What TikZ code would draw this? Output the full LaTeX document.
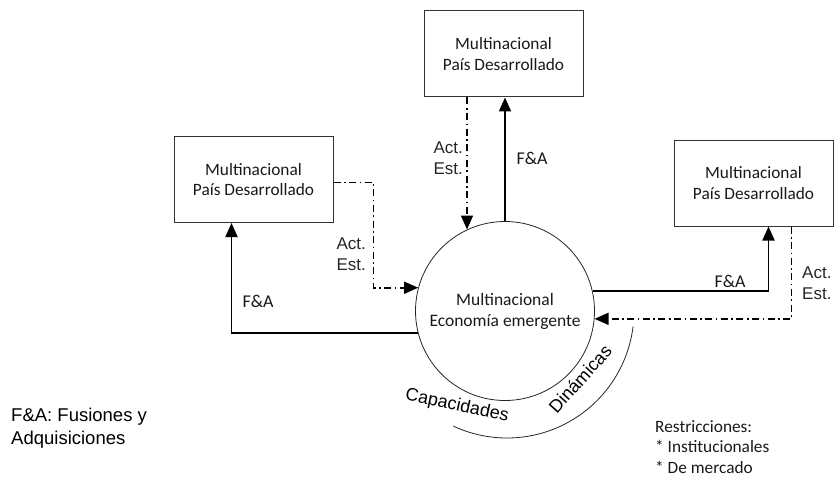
\documentclass[tikz,border=0pt]{standalone}
\usepackage{fontspec}
\usetikzlibrary{arrows.meta}
\newfontfamily\calfont{Carlito}
\newfontfamily\arifont{Liberation Sans}
\begin{document}
\begin{tikzpicture}[x=1pt,y=-1pt,
  firm/.style={draw=black!80, line width=1pt, minimum width=159pt, minimum height=86pt,
    inner sep=0pt, align=center, text=black!90, font=\calfont\fontsize{17.3}{20.5}\selectfont},
  core/.style={draw=black!85, line width=0.8pt, circle, minimum size=179pt, inner sep=0pt,
    align=center, text=black!90, font=\calfont\fontsize{17.5}{21}\selectfont},
  tip/.style={-{Triangle[length=14pt,width=12pt]}},
  fa/.style={tip, line width=1.8pt},
  act/.style={tip, line width=1.6pt, dash pattern=on 7pt off 3.5pt on 1.6pt off 3.5pt},
  falbl/.style={inner sep=0pt, text=black!90, font=\calfont\fontsize{18}{20}\selectfont},
  actlbl/.style={inner sep=0pt, text=black!85, font=\arifont\fontsize{17}{21.5}\selectfont},
  arclbl/.style={inner sep=0pt, font=\arifont\fontsize{18}{20}\selectfont},
]
\useasboundingbox (0,0) rectangle (834,476);

% firms from developed countries
\node[firm] (top)  at (503.5,54)  {Multinacional\\País Desarrollado};
\node[firm] (lbox) at (253.5,179.5) {Multinacional\\País Desarrollado};
\node[firm] (rbox) at (753.5,183) {Multinacional\\País Desarrollado};

% emerging-economy multinational
\node[core] (emn) at (505,311) {Multinacional\\Economía emergente};

% mergers & acquisitions (solid) and strategic actions (dash-dot)
\draw[fa]  (emn.north) -- (emn.north |- top.south);
\draw[act] (top.south -| emn.115) -- (emn.115);

\draw[fa]  (emn.194) -| ([xshift=58pt]lbox.south west);
\draw[act] ([yshift=-3pt]lbox.east) -- ++(40,0) |- (emn.165);

\draw[fa]  (emn.13.5) -| ([xshift=95pt]rbox.south west);
\draw[act] ([xshift=118pt]rbox.south west) |- (emn.-5.8);

% connector labels
\node[falbl] (fa1) at (532,158) {F\&A};
\node[falbl] (fa2) at (258,301) {F\&A};
\node[falbl] (fa3) at (730,281) {F\&A};
\node[actlbl, align=right, anchor=east] (ae1) at (463,158) {Act.\\Est.};
\node[actlbl, align=right, anchor=east] (ae2) at (366,254) {Act.\\Est.};
\node[actlbl, align=left, anchor=west]  (ae3) at (802,283) {Act.\\Est.};

% dynamic capabilities ring
\draw[black!85, line width=0.8pt] ([shift={(115:127)}]507,311) arc[start angle=115, end angle=7, radius=127];
\node[arclbl, rotate=-12] (cap) at (457,406) {Capacidades};
\node[arclbl, rotate=48]  (din) at (580,379) {Dinámicas};

% legend and notes
\node[inner sep=0pt, anchor=north west, align=left, font=\arifont\fontsize{18.5}{23}\selectfont]
  (leg) at (11,408) {F\&A: Fusiones y\\Adquisiciones};
\node[inner sep=0pt, anchor=north west, align=left, text=black!90, font=\calfont\fontsize{17.3}{20.5}\selectfont]
  (res) at (655,420) {Restricciones:\\* Institucionales\\* De mercado};
\end{tikzpicture}
\end{document}
